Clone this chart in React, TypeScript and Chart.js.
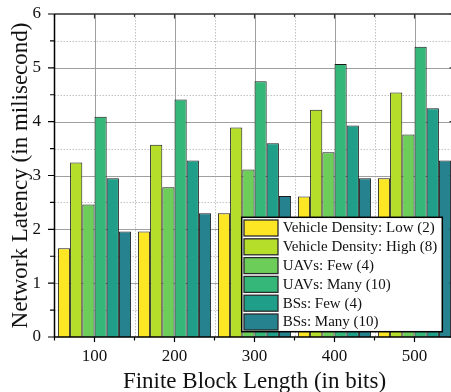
import { useEffect, useRef } from "react";
import { Chart, registerables } from "chart.js";

Chart.register(...registerables);

const CATEGORIES = ["100", "200", "300", "400", "500"];
const SERIES_NAMES = [
  "Vehicle Density: Low (2)",
  "Vehicle Density: High (8)",
  "UAVs: Few (4)",
  "UAVs: Many (10)",
  "BSs: Few (4)",
  "BSs: Many (10)",
];
const VD_LOW = [1.65, 1.96, 2.3, 2.61, 2.95];
const VD_HIGH = [3.24, 3.57, 3.89, 4.22, 4.54];
const UAV_FEW = [2.46, 2.78, 3.11, 3.43, 3.76];
const UAV_MANY = [4.09, 4.41, 4.75, 5.07, 5.39];
const BS_FEW = [2.95, 3.28, 3.6, 3.93, 4.25];
const BS_MANY = [1.96, 2.3, 2.62, 2.95, 3.28];
const SERIES_VALUES = [VD_LOW, VD_HIGH, UAV_FEW, UAV_MANY, BS_FEW, BS_MANY];
const COLORS = ["#FDE725", "#B5DE2B", "#6CCE59", "#35B779", "#1F9E89", "#26828E"];
const Y_MIN = 0;
const Y_MAX = 6;
const Y_STEP = 1;

const FONT = "'Liberation Serif', 'Times New Roman', serif";

const framePlugin = {
  id: "frame",
  beforeDatasetsDraw(chart: any) {
    const { ctx, chartArea: a, scales } = chart;
    const x = scales.x;
    const y = scales.y;
    const n = chart.data.labels.length;
    ctx.save();
    ctx.strokeStyle = "#c2c2c2";
    ctx.lineWidth = 1;
    ctx.setLineDash([1.5, 1.5]);
    ctx.beginPath();
    for (let v = Y_MIN + Y_STEP / 2; v < Y_MAX; v += Y_STEP) {
      const py = Math.round(y.getPixelForValue(v)) + 0.5;
      ctx.moveTo(a.left, py);
      ctx.lineTo(a.right, py);
    }
    for (let i = 0; i < n; i++) {
      const px = Math.round(x.getPixelForValue(i + 0.5)) + 0.5;
      ctx.moveTo(px, a.top);
      ctx.lineTo(px, a.bottom);
    }
    ctx.stroke();
    ctx.setLineDash([]);
    ctx.strokeStyle = "#a0a0a0";
    ctx.beginPath();
    for (let v = Y_MIN + Y_STEP; v < Y_MAX; v += Y_STEP) {
      const py = Math.round(y.getPixelForValue(v)) + 0.5;
      ctx.moveTo(a.left, py);
      ctx.lineTo(a.right, py);
    }
    for (let i = 0; i < n; i++) {
      const px = Math.round(x.getPixelForValue(i)) + 0.5;
      ctx.moveTo(px, a.top);
      ctx.lineTo(px, a.bottom);
    }
    ctx.stroke();
    ctx.restore();
  },
  afterDatasetsDraw(chart: any) {
    const { ctx, chartArea: a, scales } = chart;
    const x = scales.x;
    const y = scales.y;
    const n = chart.data.labels.length;
    ctx.save();
    ctx.setLineDash([]);
    ctx.strokeStyle = "#333";
    ctx.lineWidth = 1.5;
    ctx.beginPath();
    ctx.moveTo(a.left, a.top);
    ctx.lineTo(a.right, a.top);
    ctx.lineTo(a.right, a.bottom);
    ctx.stroke();
    ctx.lineWidth = 1.2;
    ctx.beginPath();
    for (let i = -0.5; i <= n - 0.5; i += 0.5) {
      const px = x.getPixelForValue(i);
      const major = Number.isInteger(i);
      ctx.moveTo(px, a.top);
      ctx.lineTo(px, a.top + (major ? 4.5 : 3));
    }
    for (let v = Y_MIN; v <= Y_MAX; v += Y_STEP / 2) {
      const py = y.getPixelForValue(v);
      const major = Math.abs(v / Y_STEP - Math.round(v / Y_STEP)) < 1e-6;
      ctx.moveTo(a.right, py);
      ctx.lineTo(a.right - (major ? 5 : 3), py);
    }
    ctx.stroke();
    ctx.strokeStyle = "#000";
    ctx.lineWidth = 1.5;
    ctx.beginPath();
    ctx.moveTo(a.left, a.top);
    ctx.lineTo(a.left, a.bottom);
    ctx.lineTo(a.right, a.bottom);
    ctx.stroke();
    ctx.lineWidth = 1.2;
    ctx.beginPath();
    for (let v = Y_MIN; v <= Y_MAX; v += Y_STEP / 2) {
      const py = y.getPixelForValue(v);
      const major = Math.abs(v / Y_STEP - Math.round(v / Y_STEP)) < 1e-6;
      ctx.moveTo(a.left, py);
      ctx.lineTo(a.left - (major ? 6.5 : 4.5), py);
    }
    for (let i = -0.5; i <= n - 0.5; i += 0.5) {
      const px = x.getPixelForValue(i);
      const major = Number.isInteger(i);
      ctx.moveTo(px, a.bottom);
      ctx.lineTo(px, a.bottom + (major ? 5 : 3.5));
    }
    ctx.stroke();
    ctx.restore();
  },
  afterDraw(chart: any) {
    const { ctx, chartArea: a } = chart;
    const ds = chart.data.datasets;
    const boxRight = a.right - 12.2;
    const boxLeft = boxRight - 200.6;
    const boxBottom = a.bottom - 5.3;
    const boxTop = boxBottom - 114.4;
    ctx.save();
    ctx.fillStyle = "#fff";
    ctx.fillRect(boxLeft, boxTop, boxRight - boxLeft, boxBottom - boxTop);
    ctx.strokeStyle = "#000";
    ctx.lineWidth = 1.5;
    ctx.strokeRect(boxLeft, boxTop, boxRight - boxLeft, boxBottom - boxTop);
    const pitch = 18.8;
    const sw = 34;
    const sh = 16;
    ctx.font = `15px ${FONT}`;
    ctx.textBaseline = "middle";
    ctx.textAlign = "left";
    ds.forEach((d: any, i: number) => {
      const sx = boxLeft + 2.3;
      const sy = boxTop + 2.7 + i * pitch;
      ctx.fillStyle = d.backgroundColor;
      ctx.fillRect(sx, sy, sw, sh);
      ctx.strokeStyle = "#2a2a2a";
      ctx.lineWidth = 1.3;
      ctx.strokeRect(sx, sy, sw, sh);
      ctx.fillStyle = "#111";
      ctx.fillText(d.label, boxLeft + 41, sy + sh / 2 + 0.5);
    });
    ctx.restore();
  },
};

export default function App() {
  const ref = useRef<HTMLCanvasElement | null>(null);
  useEffect(() => {
    if (!ref.current) return;
    const chart = new Chart(ref.current, {
      type: "bar",
      data: {
        labels: CATEGORIES,
        datasets: SERIES_VALUES.map((vals, i) => ({
          label: SERIES_NAMES[i],
          data: vals,
          backgroundColor: COLORS[i],
          borderColor: "#1a1a1a",
          borderWidth: 1,
          categoryPercentage: 0.915,
          barPercentage: 1,
        })),
      },
      options: {
        animation: false,
        responsive: false,
        devicePixelRatio: 1,
        layout: { padding: { top: 14, right: 5.5, left: 0, bottom: 0 } },
        plugins: { legend: { display: false }, tooltip: { enabled: false } },
        scales: {
          x: {
            offset: true,
            grid: { display: false, drawTicks: true, tickLength: 9 },
            border: { display: false },
            ticks: { color: "#111", font: { family: FONT, size: 17 }, padding: 0, maxRotation: 0 },
            title: {
              display: true,
              text: "Finite Block Length (in bits)",
              color: "#111",
              font: { family: FONT, size: 23 },
              padding: { top: 0, bottom: -4 },
            },
            afterFit: (s: any) => {
              s.height = 55;
            },
          },
          y: {
            min: Y_MIN,
            max: Y_MAX,
            grid: { display: false, drawTicks: true, tickLength: 13.5 },
            border: { display: false },
            ticks: { stepSize: Y_STEP, color: "#111", font: { family: FONT, size: 17 }, padding: 0 },
            title: {
              display: true,
              text: "Network Latency (in milisecond)",
              color: "#111",
              font: { family: FONT, size: 23 },
              padding: { top: 7, bottom: 0 },
            },
            afterFit: (s: any) => {
              s.width = 54.5;
            },
          },
        },
      },
      plugins: [framePlugin],
    });
    return () => chart.destroy();
  }, []);
  return (
    <div
      style={{
        position: "fixed",
        left: 0,
        top: 0,
        width: 451,
        height: 392,
        overflow: "hidden",
        background: "#fff",
      }}
    >
      <canvas ref={ref} width={460} height={392} style={{ display: "block" }} />
    </div>
  );
}
